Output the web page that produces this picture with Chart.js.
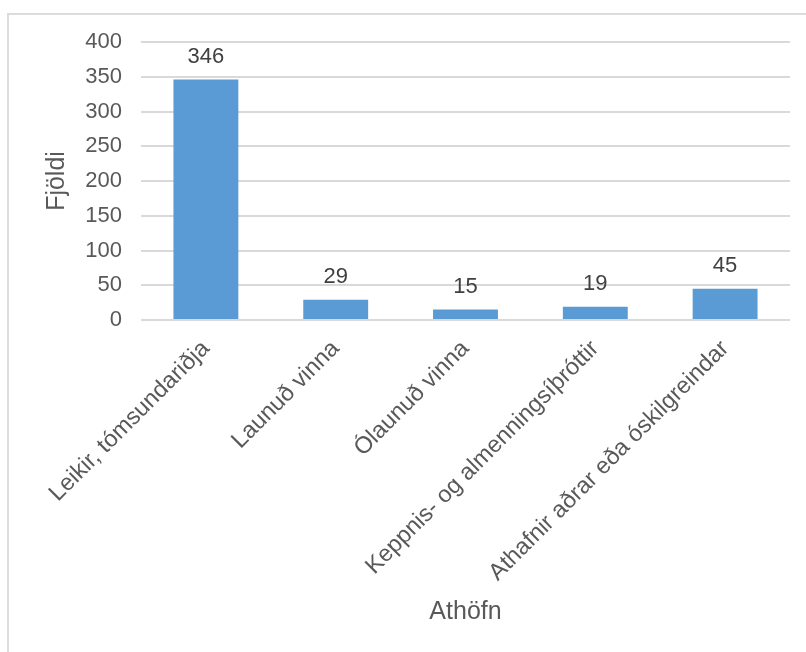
<!DOCTYPE html>
<html>
<head>
<meta charset="utf-8">
<script src="https://cdn.jsdelivr.net/npm/chart.js@4/dist/chart.umd.min.js"></script>
<style>
  html, body { margin: 0; padding: 0; background: #fff; }
  #wrap { position: relative; width: 806px; height: 652px; }
  #frame { position: absolute; left: 7px; top: 13px; right: 0; bottom: 0;
           border-top: 2px solid #dcdcdc; border-left: 2px solid #dcdcdc; }
  canvas { position: absolute; left: 0; top: 0; }
</style>
</head>
<body>
<div id="wrap">
  <div id="frame"></div>
  <canvas id="chart" width="806" height="652"></canvas>
</div>
<script>
var categories = [
  "Leikir, tómsundariðja",
  "Launuð vinna",
  "Ólaunuð vinna",
  "Keppnis- og almenningsíþróttir",
  "Athafnir aðrar eða óskilgreindar"
];
var counts = [346, 29, 15, 19, 45];
var yTicks = [0, 50, 100, 150, 200, 250, 300, 350, 400];

var fontFamily = "'Liberation Sans', Arial, sans-serif";

// value labels above each bar
var barValues = {
  id: 'barValues',
  afterDatasetsDraw: function (chart) {
    var ctx = chart.ctx;
    var meta = chart.getDatasetMeta(0);
    ctx.save();
    ctx.font = "22px " + fontFamily;
    ctx.fillStyle = "#404040";
    ctx.textAlign = "center";
    ctx.textBaseline = "alphabetic";
    meta.data.forEach(function (bar, i) {
      ctx.fillText(String(counts[i]), bar.x, bar.y - 17);
    });
    ctx.restore();
  }
};

var ctx = document.getElementById("chart").getContext('2d');
var chart = new Chart(ctx, {
  type: 'bar',
  data: {
    labels: categories,
    datasets: [{
      data: counts,
      backgroundColor: "#5b9bd5",
      categoryPercentage: 1,
      barPercentage: 0.5
    }]
  },
  options: {
    responsive: false,
    animation: false,
    layout: { padding: { top: 42, left: 28, right: 16, bottom: 0 } },
    plugins: {
      legend: { display: false },
      tooltip: { enabled: false }
    },
    scales: {
      x: {
        grid: { display: false },
        border: { display: false },
        ticks: {
          color: "#595959",
          font: { family: fontFamily, size: 23.5 },
          minRotation: 45,
          maxRotation: 45,
          autoSkip: false,
          padding: 7
        },
        title: {
          display: true,
          text: "Athöfn",
          color: "#595959",
          font: { family: fontFamily, size: 25 },
          padding: { top: 0, bottom: 25 }
        },
        afterFit: function (scale) { scale.height = 332; }
      },
      y: {
        min: 0,
        max: 400,
        afterBuildTicks: function (scale) {
          scale.ticks = yTicks.map(function (v) { return { value: v }; });
        },
        grid: { color: "#d9d9d9", lineWidth: 2, drawTicks: false },
        border: { display: false },
        ticks: {
          color: "#595959",
          font: { family: fontFamily, size: 22 },
          padding: 19
        },
        title: {
          display: true,
          text: "Fjöldi",
          color: "#595959",
          font: { family: fontFamily, size: 25 },
          padding: { top: 14, bottom: 0 }
        },
        afterFit: function (scale) { scale.width = 113; }
      }
    }
  },
  plugins: [barValues]
});
</script>
</body>
</html>
